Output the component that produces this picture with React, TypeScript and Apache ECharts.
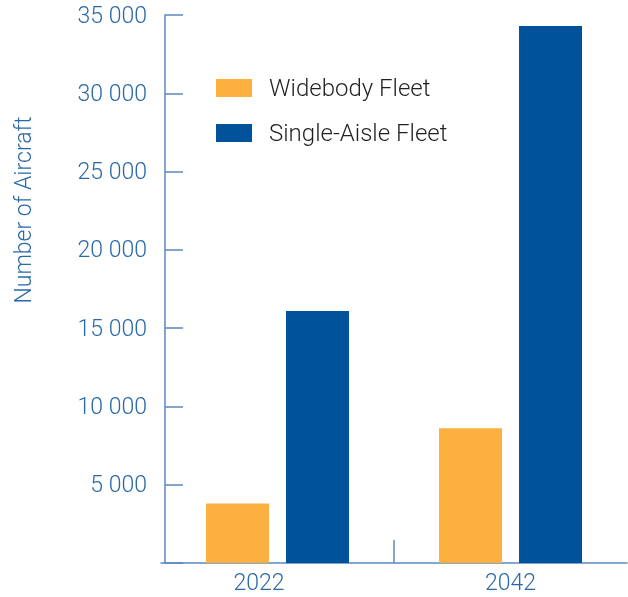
import React, { useEffect, useRef } from "react";
import * as echarts from "echarts";

const categories = ["2022", "2042"];
const widebodyFleet = [3800, 8600];
const singleAisleFleet = [16100, 34300];
const seriesNames = ["Widebody Fleet", "Single-Aisle Fleet"];
const axisTitle = "Number of Aircraft";

const BLUE_TEXT = "#2a69a9";
const AXIS = "#5b88be";
const FONT = "Roboto, 'Liberation Sans', sans-serif";

export default function App() {
  const ref = useRef<HTMLDivElement>(null);
  useEffect(() => {
    if (!ref.current) return;
    const chart = echarts.init(ref.current, undefined, { renderer: "svg" });
    chart.setOption({
      animation: false,
      grid: { left: 161, right: 1, top: 15, bottom: 34, containLabel: false },
      legend: {
        orient: "vertical",
        left: 216,
        top: 76,
        padding: 0,
        itemWidth: 36,
        itemHeight: 18,
        itemGap: 21,
        icon: "rect",
        selectedMode: false,
        textStyle: {
          color: "#231f20",
          fontSize: 24,
          lineHeight: 18,
          fontFamily: FONT,
          fontWeight: 300,
          padding: [0, 0, 0, 12],
        },
        data: seriesNames,
      },
      xAxis: [
        {
          type: "category",
          data: categories,
          axisLine: { lineStyle: { color: AXIS, width: 1.5 } },
          axisTick: { show: false },
          axisLabel: {
            color: BLUE_TEXT,
            fontSize: 23,
            fontFamily: FONT,
            fontWeight: 300,
            margin: 8,
            formatter: (v: string) => (v === categories[0] ? "{a|" + v + "}" : "{b|" + v + "}"),
            rich: {
              a: { color: BLUE_TEXT, fontSize: 23, fontFamily: FONT, fontWeight: 300, padding: [0, 37, 0, 0] },
              b: { color: BLUE_TEXT, fontSize: 23, fontFamily: FONT, fontWeight: 300 },
            },
          },
        },
        {
          type: "value",
          min: 0,
          max: categories.length,
          interval: 1,
          position: "bottom",
          axisLine: { show: false },
          splitLine: { show: false },
          axisLabel: { show: false },
          axisTick: {
            show: true,
            inside: true,
            length: 23,
            customValues: [1],
            lineStyle: { color: AXIS, width: 1.5 },
          },
        },
      ],
      yAxis: {
        type: "value",
        min: 0,
        max: 35000,
        interval: 5000,
        offset: -4,
        axisLine: { show: true, onZero: false, lineStyle: { color: AXIS, width: 1.5 } },
        axisTick: { show: true, inside: true, length: 18, lineStyle: { color: AXIS, width: 1.5 } },
        splitLine: { show: false },
        axisLabel: {
          color: BLUE_TEXT,
          fontSize: 23,
          fontFamily: FONT,
          fontWeight: 300,
          margin: 18,
          formatter: (v: number) => (v === 0 ? "" : String(v).replace(/\B(?=(\d{3})+(?!\d))/g, " ")),
        },
      },
      graphic: [
        {
          type: "text",
          x: 23,
          y: 210,
          rotation: Math.PI / 2,
          style: {
            text: axisTitle,
            fill: BLUE_TEXT,
            fontSize: 23,
            fontFamily: FONT,
            fontWeight: 300,
            align: "center",
            verticalAlign: "middle",
          },
        },
      ],
      series: [
        {
          name: seriesNames[0],
          type: "bar",
          xAxisIndex: 0,
          data: widebodyFleet,
          barWidth: 63,
          barGap: "27%",
          itemStyle: { color: "#fbb040" },
        },
        {
          name: seriesNames[1],
          type: "bar",
          xAxisIndex: 0,
          data: singleAisleFleet,
          barWidth: 63,
          itemStyle: { color: "#00539b" },
        },
      ],
    });
    return () => chart.dispose();
  }, []);
  return <div ref={ref} style={{ position: "fixed", left: 0, top: 0, width: 628, height: 597 }} />;
}
